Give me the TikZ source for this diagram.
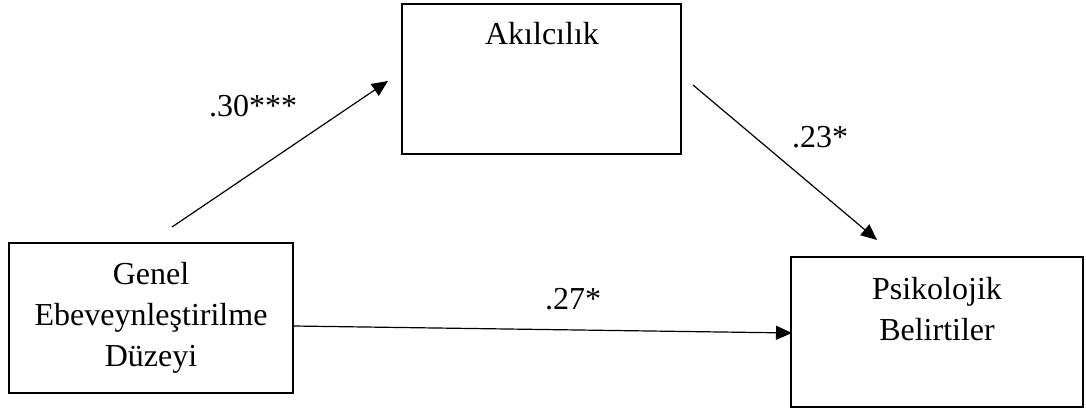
\documentclass[tikz,border=0pt]{standalone}
\usepackage{fontspec}
\setmainfont{Liberation Serif}
\usetikzlibrary{arrows.meta}
\begin{document}
\begin{tikzpicture}[x=1pt,y=-1pt,
  box/.style={draw, line width=1.8pt, inner sep=0pt},
  txt/.style={font=\fontsize{32}{41}\selectfont, align=center, inner sep=0pt},
  lbl/.style={font=\fontsize{32}{41}\selectfont, inner sep=0pt, anchor=base},
  link/.style={line width=1.2pt, -{Triangle[length=16pt,width=14pt]}}]
\useasboundingbox (0,0) rectangle (1086,411);

% variable boxes
\node[box, minimum width=279, minimum height=150] (ak) at (541.5,79) {};
\node[box, minimum width=284, minimum height=150] (gen) at (151,318) {};
\node[box, minimum width=292, minimum height=150] (psi) at (937,332) {};

% box texts
\node[txt, anchor=base] (akt) at (542,45) {Akılcılık};
\node[txt] (gent) at (151,318) {Genel\\Ebeveynleştirilme\\Düzeyi};
\node[txt] (psit) at (937,309) {Psikolojik\\Belirtiler};

% path end points
\coordinate (a-in) at (172,227);
\coordinate (a-out) at (388,81);
\coordinate (b-in) at (693,85);
\coordinate (b-out) at (877,240);
\coordinate (c-in) at (293,326);
\coordinate (c-out) at (792,333);

% paths
\draw[link] (a-in) -- (a-out);
\draw[link] (b-in) -- (b-out);
\draw[link] (c-in) -- (c-out);

% coefficients
\node[lbl] (la) at (253,117) {.30***};
\node[lbl] (lb) at (820,148) {.23*};
\node[lbl] (lc) at (573,310) {.27*};
\end{tikzpicture}
\end{document}
